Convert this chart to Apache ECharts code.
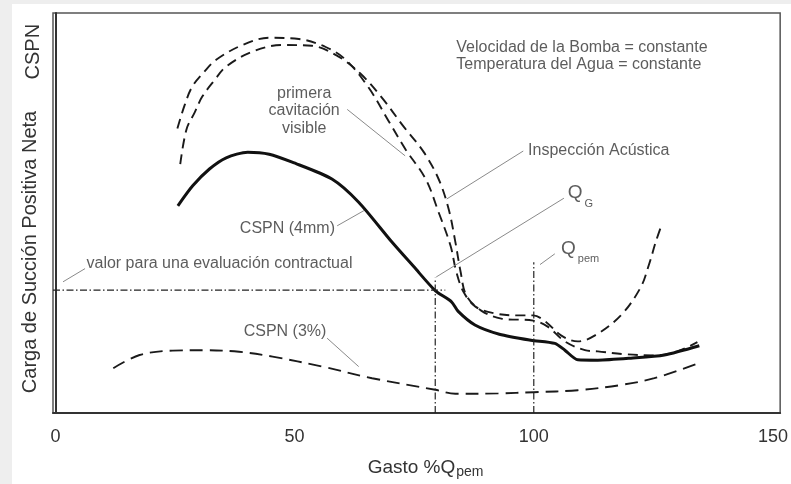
<!DOCTYPE html>
<html>
<head>
<meta charset="utf-8">
<script src="https://cdn.jsdelivr.net/npm/echarts@6/dist/echarts.min.js"></script>
<style>
  html, body { margin: 0; padding: 0; width: 791px; height: 484px; overflow: hidden; background: #eeeeee; }
  #chart { position: absolute; left: 12px; top: 4px; width: 779px; height: 480px; background: #ffffff; }
</style>
</head>
<body>
<div id="chart"></div>
<script>
// Flow axis (% of Q_pem) tick values
const flowTicks = [0, 50, 100, 150];

// CSPN (4 mm) - required NPSH curve, solid
const cspn4mmQ = [25.6, 28.7, 32.2, 35.7, 40.2, 44.7, 49.5, 57.8, 63.4, 70.3, 74.9, 79.4, 82.8, 84.2, 87.7, 92.8, 99.4, 104.4, 106.5, 109.2, 113.4, 120.3, 127.3, 134.6];
const cspn4mmH = [51.8, 56.8, 61.0, 63.8, 65.2, 64.7, 62.7, 58.5, 52.7, 42.8, 36.6, 30.6, 27.8, 25.4, 22.0, 19.7, 18.2, 17.4, 15.7, 13.3, 13.2, 13.7, 14.5, 16.8];

// First visible cavitation
const visibleQ = [25.5, 27.0, 28.6, 31.1, 33.6, 39.1, 44.7, 50.9, 56.5, 60.7, 65.5, 69.7, 73.2, 77.4, 80.1, 82.6, 83.8, 85.3, 87.8, 91.9, 96.7, 99.9, 102.4, 105.7, 109.2, 112.8, 118.2, 122.3, 124.0, 125.5, 126.5];
const visibleH = [71.1, 76.9, 81.6, 85.3, 88.3, 92.0, 93.8, 93.5, 91.5, 88.3, 81.3, 72.9, 65.9, 58.5, 50.2, 41.8, 35.3, 30.3, 26.6, 24.9, 24.4, 24.4, 22.9, 19.4, 17.9, 19.4, 24.4, 31.3, 36.8, 42.8, 46.3];

// Acoustic inspection
const acousticQ = [26.1, 27.4, 29.1, 30.7, 33.2, 35.7, 41.1, 47.4, 53.6, 59.2, 63.8, 68.2, 72.8, 76.9, 80.1, 82.2, 83.6, 84.7, 85.9, 89.0, 93.2, 99.9, 102.9, 106.5, 110.7, 113.4, 119.0, 125.3, 130.0, 134.2];
const acousticH = [62.2, 70.9, 75.1, 79.1, 83.1, 86.6, 90.3, 92.0, 91.8, 89.1, 84.8, 78.9, 71.6, 65.4, 58.5, 51.0, 42.8, 35.3, 29.4, 25.6, 23.6, 23.1, 21.6, 17.9, 15.7, 15.4, 14.7, 14.4, 15.4, 17.7];

// CSPN (3 %) - head drop criterion
const cspn3Q = [12.1, 17.6, 24.5, 31.5, 38.4, 45.4, 55.8, 66.2, 79.4, 83.6, 92.6, 100.0, 109.2, 118.2, 125.2, 133.9];
const cspn3H = [11.2, 14.5, 15.6, 15.7, 15.3, 14.1, 11.6, 8.7, 5.8, 4.8, 4.9, 5.2, 5.7, 7.0, 8.7, 12.2];

// Contract value and reference flows
const contractH = 30.7;
const contractEndQ = 81.5;
const qG = 79.4;
const qGTop = 33.8;
const qPem = 100;
const qPemTop = 37.7;

// Leader lines: [q1, h1, q2, h2]
const leaderLines = [
  [61.0, 75.9, 73.1, 64.3],
  [97.8, 65.5, 81.8, 53.5],
  [106.3, 53.7, 79.6, 34.0],
  [104.4, 39.8, 101.3, 37.1],
  [58.9, 46.8, 64.5, 50.6],
  [56.8, 18.7, 63.4, 11.6],
  [6.2, 36.1, 1.6, 32.8]
];

// Annotation texts, anchored in data units
const noteQ = [83.8, 83.8, 52.0, 98.8, 107.1, 105.7, 48.5, 6.5, 48.0];
const noteH = [91.4, 87.1, 75.6, 65.5, 54.6, 40.8, 46.0, 37.3, 20.3];
const noteText = [
  'Velocidad de la Bomba = constante',
  'Temperatura del Agua = constante',
  'primera\ncavitación\nvisible',
  'Inspección Acústica',
  '{q|Q}{s|G}',
  '{q|Q}{s|pem}',
  'CSPN (4mm)',
  'valor para una evaluación contractual',
  'CSPN (3%)'
];
const noteAlign = ['left', 'left', 'center', 'left', 'left', 'left', 'center', 'left', 'center'];

const FONT = '"Liberation Sans", Arial, Helvetica, sans-serif';
const TEXT = '#333333';

const zip = (xs, ys) => xs.map((x, i) => [x, ys[i]]);

const chart = echarts.init(document.getElementById('chart'), null, { renderer: 'canvas' });

const subRich = {
  q: { fontSize: 19, fontFamily: FONT, color: TEXT, lineHeight: 22, verticalAlign: 'top' },
  s: { fontSize: 11, fontFamily: FONT, color: TEXT, lineHeight: 11, padding: [15, 0, 0, 2], verticalAlign: 'top' }
};

const noteData = noteQ.map((q, i) => ({
  value: [q, noteH[i]],
  label: {
    show: true,
    position: 'inside',
    align: noteAlign[i],
    verticalAlign: 'middle',
    formatter: noteText[i],
    fontSize: 16,
    lineHeight: 17.5,
    fontFamily: FONT,
    color: TEXT,
    rich: subRich
  }
}));

const dashDot = [7, 2.5, 1.5, 2.5];

const option = {
  animation: false,
  backgroundColor: '#ffffff',
  grid: {
    left: 41, top: 9, width: 730, height: 402,
    show: true, borderColor: '#555', borderWidth: 1.5, backgroundColor: 'transparent'
  },
  xAxis: {
    type: 'value', min: -0.5, max: 151.5,
    splitLine: { show: false },
    axisTick: { show: false },
    axisLine: { show: true, lineStyle: { color: '#333', width: 2 } },
    axisLabel: {
      customValues: flowTicks,
      fontSize: 18, fontFamily: FONT, color: '#333', margin: 15
    },
    name: '{a|Gasto %Q}{b|pem}',
    nameLocation: 'middle',
    nameGap: 43,
    nameTextStyle: {
      padding: [0, 0, 0, 18],
      rich: {
        a: { fontSize: 19, fontFamily: FONT, color: '#333' },
        b: { fontSize: 14, fontFamily: FONT, color: '#333', padding: [9, 0, 0, 1] }
      }
    }
  },
  yAxis: {
    type: 'value', min: 0, max: 100,
    splitLine: { show: false },
    axisTick: { show: false },
    axisLabel: { show: false },
    axisLine: { show: true, lineStyle: { color: '#333', width: 2 } }
  },
  graphic: [
    {
      type: 'text', x: 21, y: 47.7, rotation: Math.PI / 2,
      style: { text: 'CSPN', font: '20px ' + FONT, fill: '#333', align: 'center', verticalAlign: 'middle' }
    },
    {
      type: 'text', x: 18, y: 248, rotation: Math.PI / 2,
      style: { text: 'Carga de Succión Positiva Neta', font: '20px ' + FONT, fill: '#333', align: 'center', verticalAlign: 'middle' }
    }
  ],
  series: [
    {
      name: 'primera cavitación visible', type: 'line', data: zip(visibleQ, visibleH),
      smooth: 0.35, showSymbol: false, silent: true,
      lineStyle: { color: '#1a1a1a', width: 1.9, type: [10, 6] }
    },
    {
      name: 'Inspección Acústica', type: 'line', data: zip(acousticQ, acousticH),
      smooth: 0.35, showSymbol: false, silent: true,
      lineStyle: { color: '#1a1a1a', width: 1.9, type: [10, 6] }
    },
    {
      name: 'CSPN (3%)', type: 'line', data: zip(cspn3Q, cspn3H),
      smooth: 0.35, showSymbol: false, silent: true,
      lineStyle: { color: '#1a1a1a', width: 1.9, type: [13, 7] }
    },
    {
      name: 'CSPN (4mm)', type: 'line', data: zip(cspn4mmQ, cspn4mmH),
      smooth: 0.25, showSymbol: false, silent: true,
      lineStyle: { color: '#111', width: 3 }
    },
    {
      name: 'valor contractual', type: 'line', data: [[-0.5, contractH], [contractEndQ, contractH]],
      showSymbol: false, silent: true,
      lineStyle: { color: '#222', width: 1.2, type: dashDot }
    },
    {
      name: 'Q_G', type: 'line', data: [[qG, 0], [qG, qGTop]],
      showSymbol: false, silent: true,
      lineStyle: { color: '#222', width: 1.2, type: dashDot }
    },
    {
      name: 'Q_pem', type: 'line', data: [[qPem, 0], [qPem, qPemTop]],
      showSymbol: false, silent: true,
      lineStyle: { color: '#222', width: 1.2, type: dashDot }
    },
    {
      name: 'leaders', type: 'line', data: [], silent: true,
      markLine: {
        silent: true, symbol: 'none', animation: false,
        label: { show: false },
        lineStyle: { color: '#8a8a8a', width: 1, type: 'solid' },
        emphasis: { disabled: true },
        data: leaderLines.map(l => [{ coord: [l[0], l[1]] }, { coord: [l[2], l[3]] }])
      }
    },
    {
      name: 'notes', type: 'scatter', symbolSize: 0, silent: true,
      data: noteData
    }
  ]
};

chart.setOption(option);
</script>
</body>
</html>
